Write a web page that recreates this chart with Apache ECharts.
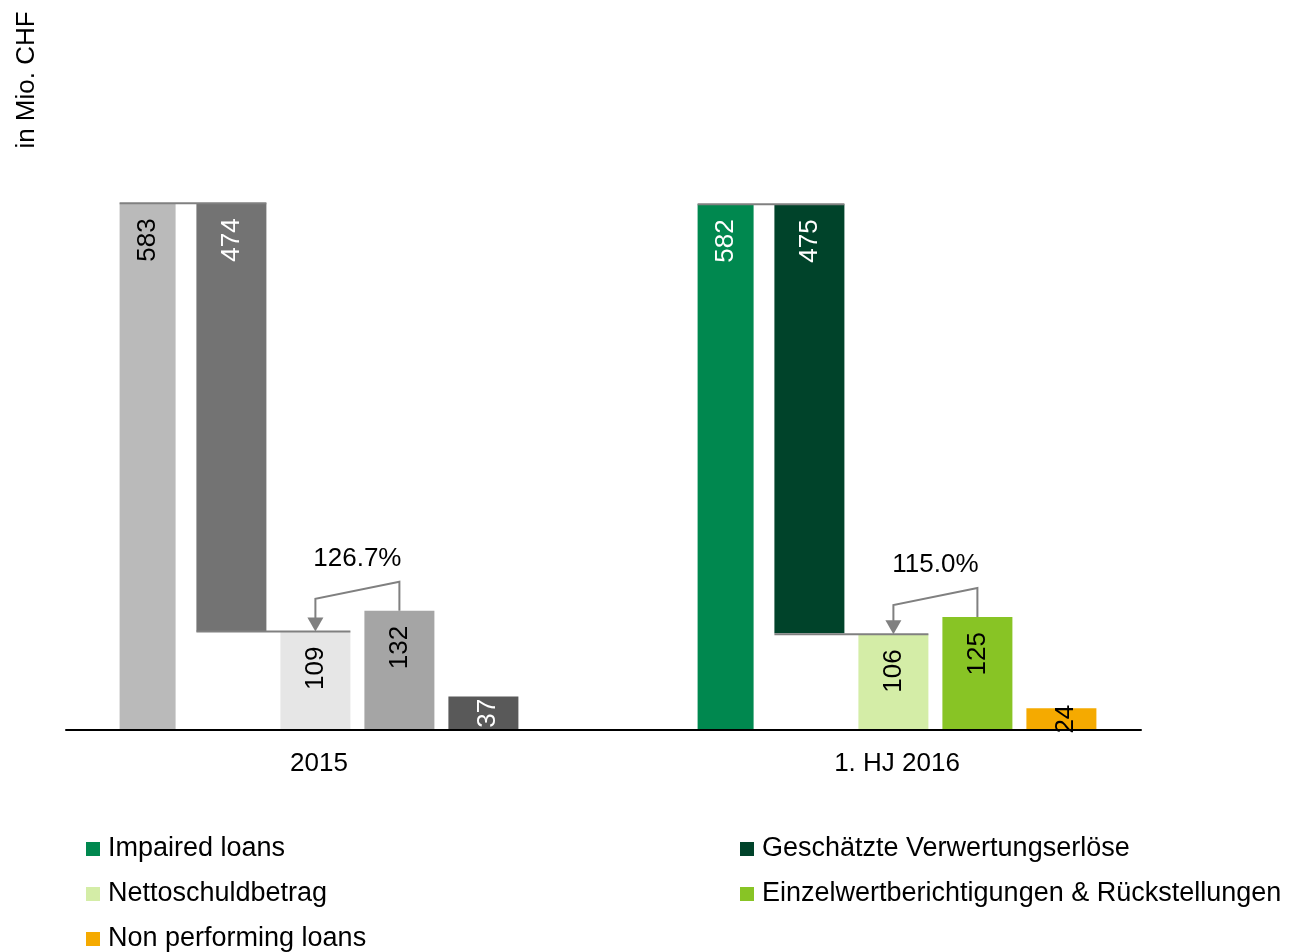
<!DOCTYPE html>
<html>
<head>
<meta charset="utf-8">
<title>Impaired loans</title>
<script src="https://cdn.jsdelivr.net/npm/echarts@6/dist/echarts.min.js"></script>
<style>
  html, body { margin: 0; padding: 0; background: #fff; }
  #chart { width: 1293px; height: 952px; }
</style>
</head>
<body>
<div id="chart"></div>
<script>
const categories = ["2015", "1. HJ 2016"];
const impairedLoans = [583, 582];
const verwertungserloese = [474, 475];
const nettoschuldbetrag = [109, 106];
const einzelwertberichtigungen = [132, 125];
const nonPerformingLoans = [37, 24];
const deckungsgrad = ["126.7%", "115.0%"];

const FONT = "'Liberation Sans', Arial, sans-serif";
// impaired, (spacer), verwertung, netto, einzel, npl
const barWidths = [56, 8, 70, 70, 70, 70];
const barGapRatio = 0.2;

// same column layout echarts uses, so the connectors line up with the bars
const barLefts = (() => {
  let total = 0;
  barWidths.forEach((w) => (total += w * (1 + barGapRatio)));
  total -= barWidths[barWidths.length - 1] * barGapRatio;
  let off = -total / 2;
  return barWidths.map((w) => {
    const l = off;
    off += w * (1 + barGapRatio);
    return l;
  });
})();

// colour in 2016 (legend), grey in 2015
function makeData(values, greyColor, labelColors) {
  return values.map((v, i) => ({
    value: v,
    itemStyle: i === 0 ? { color: greyColor } : undefined,
    label: { color: labelColors[i] },
  }));
}

const barLabel = {
  show: true,
  position: "insideTop",
  rotate: 90,
  align: "right",
  verticalAlign: "middle",
  distance: 15,
  fontSize: 26,
  fontFamily: FONT,
};

// one legend per entry, two columns like the original
const legendSlots = [
  ["Impaired loans", 86, 834],
  ["Geschätzte Verwertungserlöse", 740, 834],
  ["Nettoschuldbetrag", 86, 879],
  ["Einzelwertberichtigungen & Rückstellungen", 740, 879],
  ["Non performing loans", 86, 924],
];

const chart = echarts.init(document.getElementById("chart"));

chart.setOption({
  animation: false,
  backgroundColor: "#fff",
  grid: [
    { left: 30, right: 107, top: 188, bottom: 222 },
    { left: 66, right: 152, top: 188, bottom: 222 },
  ],
  legend: legendSlots.map(([name, left, top]) => ({
    left,
    top,
    padding: 0,
    itemWidth: 14,
    itemHeight: 14,
    icon: "rect",
    data: [name],
    textStyle: {
      fontSize: 27,
      lineHeight: 30,
      color: "#000",
      fontFamily: FONT,
      padding: [0, 0, 0, 3],
    },
  })),
  graphic: [
    {
      type: "text",
      x: 27,
      y: 80,
      rotation: Math.PI / 2,
      style: {
        text: "in Mio. CHF",
        align: "center",
        verticalAlign: "middle",
        fontSize: 26,
        fontFamily: FONT,
        fill: "#000",
      },
    },
  ],
  xAxis: [
    {
      type: "category",
      gridIndex: 0,
      data: categories,
      axisLine: { show: false },
      axisTick: { show: false },
      axisLabel: { margin: 21, fontSize: 26, color: "#000", fontFamily: FONT },
    },
    {
      type: "value",
      gridIndex: 1,
      min: 0,
      max: 1,
      z: 10,
      axisLine: { show: true, onZero: false, lineStyle: { color: "#000", width: 2 } },
      axisTick: { show: false },
      axisLabel: { show: false },
      splitLine: { show: false },
    },
  ],
  yAxis: [
    { type: "value", gridIndex: 0, min: 0, max: 600, show: false },
    { type: "value", gridIndex: 1, min: 0, max: 1, show: false },
  ],
  series: [
    {
      name: "Impaired loans",
      type: "bar",
      barWidth: barWidths[0],
      barGap: "20%",
      itemStyle: { color: "#00884f" },
      label: barLabel,
      data: makeData(impairedLoans, "#bababa", ["#000", "#fff"]),
    },
    {
      // empty column, only widens the first gap
      name: "spacer",
      type: "bar",
      barWidth: barWidths[1],
      barGap: "20%",
      silent: true,
      data: [],
    },
    {
      name: "base",
      type: "bar",
      stack: "verwertung",
      barWidth: barWidths[2],
      barGap: "20%",
      silent: true,
      itemStyle: { color: "transparent" },
      data: impairedLoans.map((v, i) => v - verwertungserloese[i]),
    },
    {
      name: "Geschätzte Verwertungserlöse",
      type: "bar",
      stack: "verwertung",
      barWidth: barWidths[2],
      barGap: "20%",
      itemStyle: { color: "#00432a" },
      label: barLabel,
      data: makeData(verwertungserloese, "#737373", ["#fff", "#fff"]),
    },
    {
      name: "Nettoschuldbetrag",
      type: "bar",
      barWidth: barWidths[3],
      barGap: "20%",
      itemStyle: { color: "#d4eda7" },
      label: barLabel,
      data: makeData(nettoschuldbetrag, "#e6e6e6", ["#000", "#000"]),
    },
    {
      name: "Einzelwertberichtigungen & Rückstellungen",
      type: "bar",
      barWidth: barWidths[4],
      barGap: "20%",
      itemStyle: { color: "#88c425" },
      label: barLabel,
      data: makeData(einzelwertberichtigungen, "#a5a5a5", ["#000", "#000"]),
    },
    {
      name: "Non performing loans",
      type: "bar",
      barWidth: barWidths[5],
      barGap: "20%",
      itemStyle: { color: "#f5aa00" },
      label: { ...barLabel, position: "inside", align: "center", offset: [0, 4] },
      data: makeData(nonPerformingLoans, "#595959", ["#fff", "#000"]),
    },
    {
      // connector lines and coverage arrow
      type: "custom",
      z: 5,
      silent: true,
      data: categories.map((c, i) => [i, impairedLoans[i], nettoschuldbetrag[i], einzelwertberichtigungen[i]]),
      encode: { x: 0, y: 1 },
      renderItem(params, api) {
        const i = api.value(0);
        const cx = api.coord([i, 0])[0];
        const yImp = api.coord([i, api.value(1)])[1];
        const yNet = api.coord([i, api.value(2)])[1];
        const yEin = api.coord([i, api.value(3)])[1];
        const left = (k) => cx + barLefts[k];
        const right = (k) => cx + barLefts[k] + barWidths[k];
        const xN = left(3) + barWidths[3] / 2;
        const xE = left(4) + barWidths[4] / 2;
        const yTop = yEin - 29;
        const line = { stroke: "#808080", lineWidth: 2, fill: null };
        return {
          type: "group",
          children: [
            { type: "line", shape: { x1: left(0), y1: yImp, x2: right(2), y2: yImp }, style: line },
            { type: "line", shape: { x1: left(2), y1: yNet, x2: right(3), y2: yNet }, style: line },
            {
              type: "polyline",
              shape: { points: [[xE, yEin], [xE, yTop], [xN, yTop + 17], [xN, yNet - 8]] },
              style: line,
            },
            {
              type: "polygon",
              shape: { points: [[xN - 8, yNet - 14], [xN + 8, yNet - 14], [xN, yNet]] },
              style: { fill: "#808080" },
            },
            {
              type: "text",
              style: {
                text: deckungsgrad[i],
                x: (xN + xE) / 2,
                y: yTop - 23,
                align: "center",
                verticalAlign: "middle",
                fontSize: 26,
                fontFamily: FONT,
                fill: "#000",
              },
            },
          ],
        };
      },
    },
  ],
});
</script>
</body>
</html>
